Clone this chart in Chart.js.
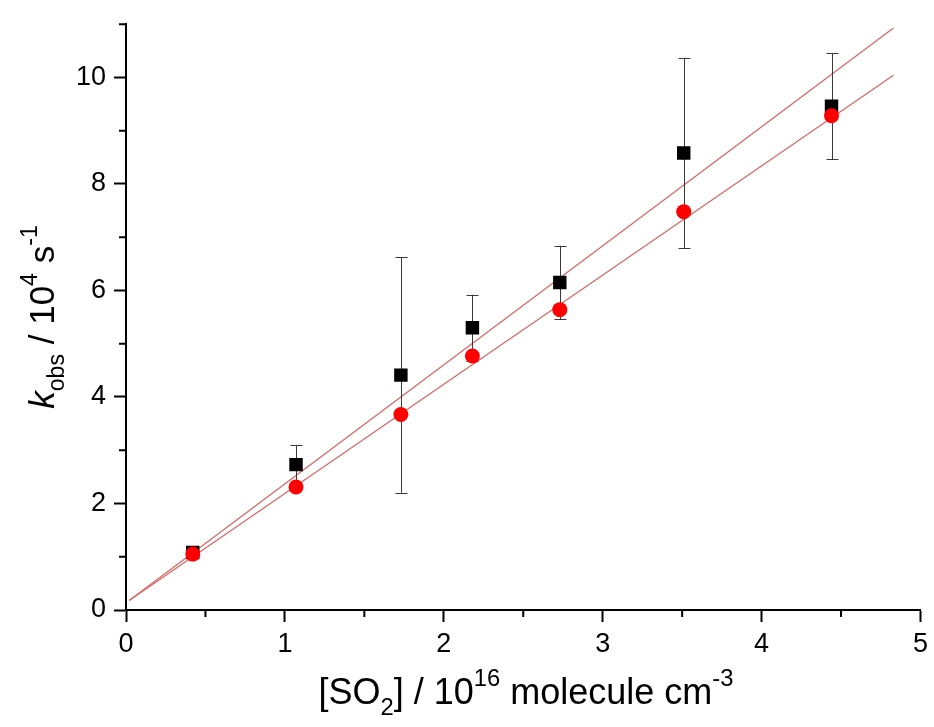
<!DOCTYPE html>
<html>
<head>
<meta charset="utf-8">
<script src="https://cdn.jsdelivr.net/npm/chart.js@4.4.1/dist/chart.umd.min.js"></script>
<style>
  html, body { margin: 0; padding: 0; background: #fff; }
  #wrap { width: 934px; height: 727px; }
</style>
</head>
<body>
<div id="wrap"><canvas id="chart" width="934" height="727"></canvas></div>
<script>
// [SO2] / 10^16 molecule cm^-3
const so2 = [0.42, 1.07, 1.73, 2.18, 2.73, 3.51, 4.44];
// black squares with error bars
const kBlack = [1.08, 2.73, 4.41, 5.30, 6.15, 8.58, 9.46];
const kBlackErr = [0.05, 0.37, 2.21, 0.62, 0.69, 1.79, 1.00];
// red circles
const kRed = [1.05, 2.31, 3.67, 4.77, 5.64, 7.48, 9.28];
// linear fits (end points)
const fitX = [0.02, 4.83];
const fitBlack = [0.18, 10.93];
const fitRed = [0.18, 10.04];

const xTicks = [0, 1, 2, 3, 4, 5];
const yTicks = [0, 2, 4, 6, 8, 10];

const FONT = "'Liberation Sans', Arial, sans-serif";

function pts(xs, ys) {
  return xs.map((x, i) => ({ x: x, y: ys[i] }));
}

// error bars drawn under the black squares
const errorBars = {
  id: 'errorBars',
  beforeDatasetDraw(chart, args) {
    if (chart.data.datasets[args.index].label !== 'black') return;
    const ctx = chart.ctx, xs = chart.scales.x, ys = chart.scales.y;
    ctx.save();
    ctx.strokeStyle = '#3a3a3a';
    ctx.lineWidth = 1;
    so2.forEach((v, i) => {
      const px = Math.round(xs.getPixelForValue(v)) + 0.5;
      const top = ys.getPixelForValue(kBlack[i] + kBlackErr[i]);
      const bot = ys.getPixelForValue(kBlack[i] - kBlackErr[i]);
      ctx.beginPath();
      ctx.moveTo(px, top); ctx.lineTo(px, bot);
      ctx.moveTo(px - 6, Math.round(top) + 0.5); ctx.lineTo(px + 6, Math.round(top) + 0.5);
      ctx.moveTo(px - 6, Math.round(bot) + 0.5); ctx.lineTo(px + 6, Math.round(bot) + 0.5);
      ctx.stroke();
    });
    ctx.restore();
  }
};

// minor ticks and axis titles with sub/superscripts
function richText(ctx, parts, size) {
  let w = 0;
  parts.forEach(p => {
    const s = p.sub || p.sup ? size * 0.66 : size;
    ctx.font = (p.it ? 'italic ' : '') + s + 'px ' + FONT;
    p.w = ctx.measureText(p.t).width;
    p.s = s;
    w += p.w;
  });
  return w;
}
function drawRich(ctx, parts, x, y) {
  parts.forEach(p => {
    ctx.font = (p.it ? 'italic ' : '') + p.s + 'px ' + FONT;
    let dy = 0;
    if (p.sub) dy = p.s * 0.45;
    if (p.sup) dy = -p.s * 0.75;
    ctx.fillText(p.t, x, y + dy);
    x += p.w;
  });
}

const decorations = {
  id: 'decorations',
  afterDraw(chart) {
    const ctx = chart.ctx, xs = chart.scales.x, ys = chart.scales.y;
    const a = chart.chartArea;
    ctx.save();
    ctx.strokeStyle = '#000';
    ctx.lineWidth = 2;
    ctx.beginPath();
    for (let v = 0.5; v < 5; v += 1) {
      const px = xs.getPixelForValue(v);
      ctx.moveTo(px, a.bottom); ctx.lineTo(px, a.bottom + 7);
    }
    for (let v = 1; v <= 11; v += 2) {
      const py = ys.getPixelForValue(v);
      ctx.moveTo(a.left, py); ctx.lineTo(a.left - 7, py);
    }
    ctx.stroke();

    ctx.fillStyle = '#000';
    ctx.textBaseline = 'alphabetic';
    const xt = [
      { t: '[SO' }, { t: '2', sub: true }, { t: '] / 10' }, { t: '16', sup: true },
      { t: ' molecule cm' }, { t: '-3', sup: true }
    ];
    const wx = richText(ctx, xt, 36);
    drawRich(ctx, xt, 526 - wx / 2, 704);

    const yt = [
      { t: 'k', it: true }, { t: 'obs', sub: true }, { t: ' / 10' }, { t: '4', sup: true },
      { t: ' s' }, { t: '-1', sup: true }
    ];
    const wy = richText(ctx, yt, 35);
    ctx.translate(54, 317);
    ctx.rotate(-Math.PI / 2);
    drawRich(ctx, yt, -wy / 2, 0);
    ctx.restore();
  }
};

const ctx = document.getElementById('chart').getContext('2d');
new Chart(ctx, {
  type: 'scatter',
  data: {
    datasets: [
      {
        label: 'red',
        data: pts(so2, kRed),
        pointStyle: 'circle',
        pointRadius: 7.5,
        pointHoverRadius: 7.5,
        backgroundColor: '#ff0000',
        borderColor: '#ff0000',
        borderWidth: 0,
        order: 0
      },
      {
        label: 'black',
        data: pts(so2, kBlack),
        pointStyle: 'rect',
        pointRadius: 9.5,
        pointHoverRadius: 9.5,
        backgroundColor: '#000',
        borderColor: '#000',
        borderWidth: 0,
        order: 1
      },
      {
        label: 'fit black',
        type: 'line',
        data: pts(fitX, fitBlack),
        showLine: true,
        pointRadius: 0,
        borderColor: 'rgb(214, 104, 104)',
        borderWidth: 1.3,
        order: 2
      },
      {
        label: 'fit red',
        type: 'line',
        data: pts(fitX, fitRed),
        showLine: true,
        pointRadius: 0,
        borderColor: 'rgb(214, 104, 104)',
        borderWidth: 1.3,
        order: 2
      }
    ]
  },
  options: {
    responsive: false,
    animation: false,
    events: [],
    layout: { padding: { top: 18, right: 8, left: 0, bottom: 0 } },
    plugins: { legend: { display: false }, tooltip: { enabled: false } },
    scales: {
      x: {
        type: 'linear',
        min: 0, max: 5,
        afterBuildTicks: s => { s.ticks = xTicks.map(v => ({ value: v })); },
        afterFit: s => { s.height = 117; },
        border: { display: true, color: '#000', width: 2 },
        grid: { drawOnChartArea: false, drawTicks: true, tickLength: 12, tickColor: '#000', tickWidth: 2 },
        ticks: { color: '#000', padding: 6, font: { family: FONT, size: 27 } }
      },
      y: {
        type: 'linear',
        min: 0, max: 11,
        afterBuildTicks: s => { s.ticks = yTicks.map(v => ({ value: v })); },
        afterFit: s => { s.width = 126; },
        border: { display: true, color: '#000', width: 2 },
        grid: { drawOnChartArea: false, drawTicks: true, tickLength: 12, tickColor: '#000', tickWidth: 2 },
        ticks: { color: '#000', padding: 8, font: { family: FONT, size: 27 } }
      }
    }
  },
  plugins: [errorBars, decorations]
});
</script>
</body>
</html>
